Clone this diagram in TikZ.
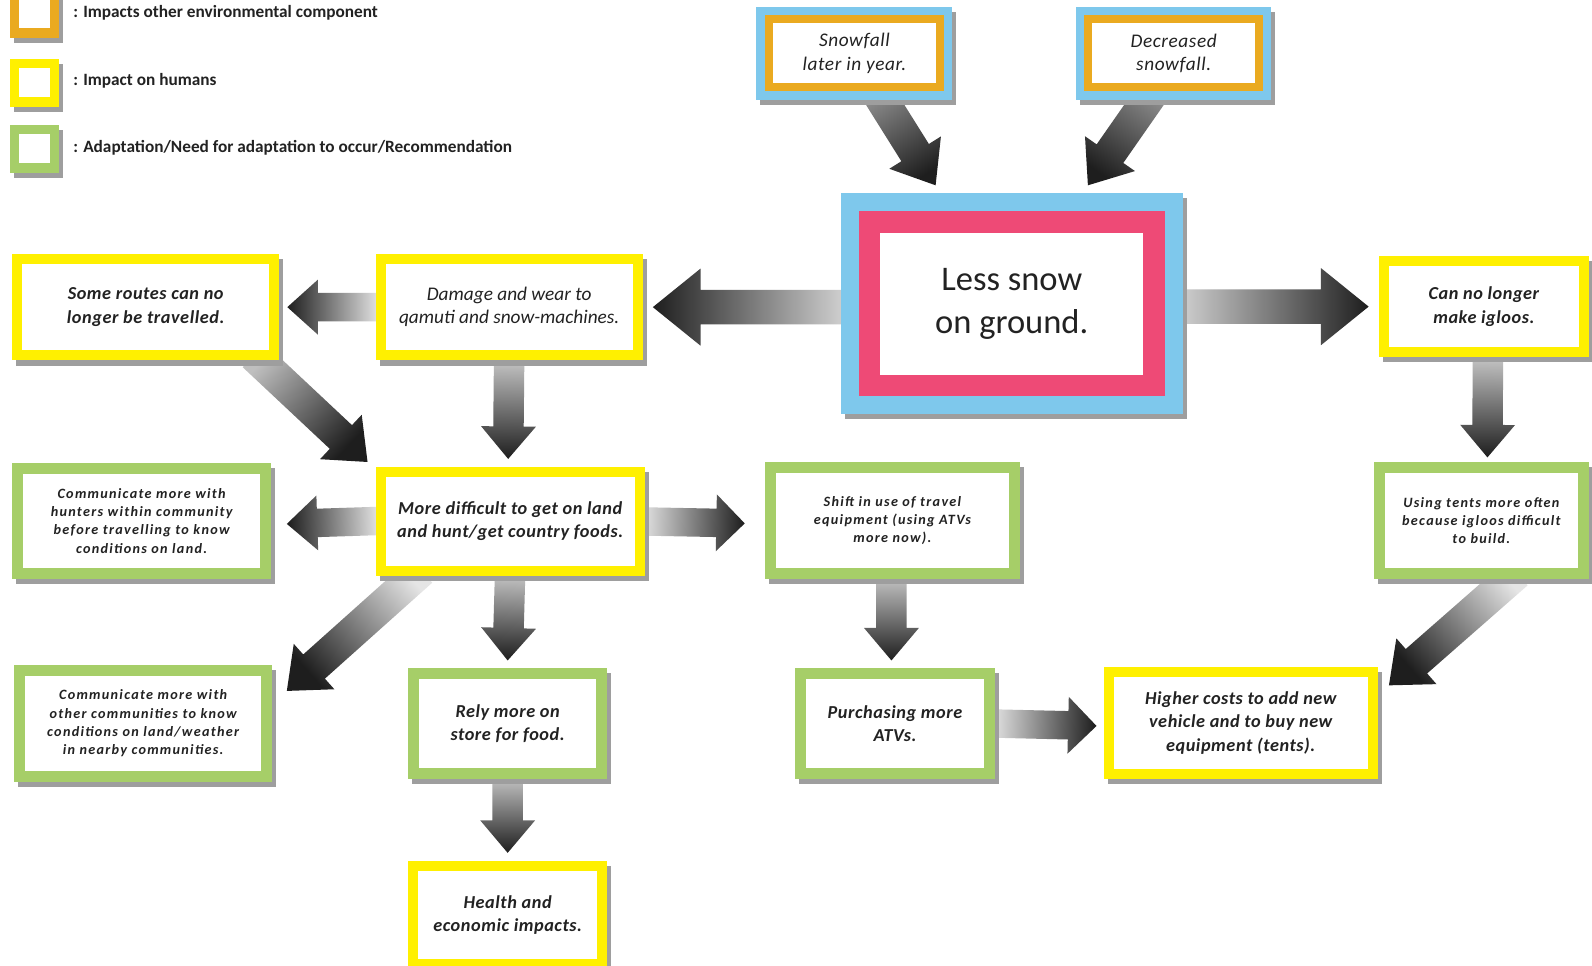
\documentclass[tikz,border=0pt]{standalone}
\usepackage{fontspec}
\setmainfont{Carlito}
\newfontfamily\tracked[LetterSpace=9]{Carlito}
\newfontfamily\lighttracked[LetterSpace=3]{Carlito}
\usetikzlibrary{calc}

\definecolor{corange}{RGB}{234,170,32}
\definecolor{cblue}{RGB}{126,200,236}
\definecolor{cpink}{RGB}{238,74,118}
\definecolor{cyellow}{RGB}{255,240,0}
\definecolor{cgreen}{RGB}{166,206,104}
\definecolor{textgrey}{RGB}{34,34,34}
\definecolor{arrowdark}{RGB}{30,30,30}
\definecolor{arrowlight}{RGB}{232,232,232}

\pgfdeclarelayer{bg}
\pgfsetlayers{bg,main}

% fonts
\newcommand\bigtext{\fontsize{34}{42}\selectfont}
\newcommand\midtext{\lighttracked\fontsize{18}{23}\selectfont\bfseries\itshape}
\newcommand\envtext{\lighttracked\fontsize{19}{23}\selectfont\itshape}
\newcommand\plaintext{\fontsize{19}{23}\selectfont\itshape}
\newcommand\smalltext{\tracked\fontsize{14}{18}\selectfont\bfseries\itshape}
\newcommand\keytext{\fontsize{17}{20}\selectfont\bfseries}

% block arrow with a shade from tail (light) to head (dark)
% [tail colour]{from}{to}{shaft half width}{head half width}{head length}
\newcommand\flowarrow[6][arrowlight]{%
  \coordinate (fa-s) at #2;
  \coordinate (fa-e) at #3;
  \coordinate (fa-h) at ($(fa-e)!#6!(fa-s)$);
  \pgfmathanglebetweenpoints{\pgfpointanchor{fa-s}{center}}{\pgfpointanchor{fa-e}{center}}%
  \pgfmathsetmacro\faangle{\pgfmathresult-90}%
  \shade[top color=arrowdark, bottom color=#1, shading angle=\faangle]
    ($(fa-s)!#4!90:(fa-e)$) -- ($(fa-h)!#4!90:(fa-e)$) -- ($(fa-h)!#5!90:(fa-e)$) -- (fa-e)
    -- ($(fa-h)!#5!-90:(fa-e)$) -- ($(fa-h)!#4!-90:(fa-e)$) -- ($(fa-s)!#4!-90:(fa-e)$) -- cycle;
}

\tikzset{
  box/.style={rectangle, inner sep=0pt, outer sep=0pt, fill=white, align=center,
      text=textgrey, font=\midtext},
  shadowed/.style={preaction={fill=black!38, draw=black!38, line width=#1,
      transform canvas={shift={(4pt,-5pt)}}}},
  yellowbox/.style={box, shadowed=10pt, draw=cyellow, line width=10pt},
  greenbox/.style={box, shadowed=11pt, draw=cgreen, line width=11pt},
  envbox/.style={box, shadowed=24pt, preaction={draw=cblue, line width=24pt},
      draw=corange, line width=8pt, font=\envtext},
  mainbox/.style={box, shadowed=57pt, preaction={draw=cblue, line width=57pt},
      draw=cpink, line width=21pt, font=\bigtext},
  small/.style={font=\smalltext},
  plain/.style={font=\plaintext},
  keybox/.style={box, shadowed=9pt, line width=9pt, minimum width=39pt, minimum height=38pt},
  keylabel/.style={anchor=west, inner sep=0pt, text=textgrey, font=\keytext},
}

\begin{document}
\begin{tikzpicture}[x=1pt, y=-1pt]
\useasboundingbox (0,0) rectangle (1568,951);

% key
\node[keybox, draw=corange] (keyenv) at (34,13.5) {};
\node[keybox, draw=cyellow] (keyhuman) at (34,81.5) {};
\node[keybox, draw=cgreen] (keyadapt) at (34,146.5) {};
\node[keylabel] (keyenvtext) at (72,13) {: Impacts other environmental component};
\node[keylabel] (keyhumantext) at (72,80) {: Impact on humans};
\node[keylabel] (keyadapttext) at (72,146) {: Adaptation/Need for adaptation to occur/Recommendation};

% causes and the central effect
\node[envbox, minimum width=169pt, minimum height=67pt] (snow) at (841.5,52.5)
  {Snowfall\\later in year.};
\node[envbox, minimum width=168pt, minimum height=67pt] (decr) at (1156,52.5)
  {Decreased\\snowfall.};
\node[mainbox, minimum width=280pt, minimum height=161pt] (central) at (996.5,299)
  {Less snow\\on ground.};

% second row
\node[yellowbox, minimum width=253pt, minimum height=95pt] (routes) at (143.5,302.5)
  {Some routes can no\\longer be travelled.};
\node[yellowbox, plain, minimum width=253pt, minimum height=95pt] (damage) at (501.5,302.5)
  {Damage and wear to\\qamuti and snow-machines.};
\node[yellowbox, minimum width=197pt, minimum height=90pt] (igloo) at (1461.5,302)
  {Can no longer\\make igloos.};

% third row
\node[greenbox, small, minimum width=244pt, minimum height=103pt] (hunters) at (139.5,513)
  {Communicate more with\\hunters within community\\before travelling to know\\conditions on land.};
\node[yellowbox, minimum width=255pt, minimum height=97pt] (difficult) at (502.5,513.5)
  {More difficult to get on land\\and hunt/get country foods.};
\node[greenbox, small, minimum width=241pt, minimum height=104pt] (shift) at (879,512.5)
  {Shift in use of travel\\equipment (using ATVs\\more now).};
\node[greenbox, small, minimum width=201pt, minimum height=104pt] (tents) at (1459,512.5)
  {Using tents more often\\because igloos difficult\\to build.};

% fourth row
\node[greenbox, small, minimum width=243pt, minimum height=104pt] (others) at (141,712.5)
  {Communicate more with\\other communities to know\\conditions on land/weather\\in nearby communities.};
\node[greenbox, minimum width=185pt, minimum height=98pt] (rely) at (500,712.5)
  {Rely more on\\store for food.};
\node[greenbox, minimum width=186pt, minimum height=98pt] (atvs) at (881.5,712.5)
  {Purchasing more\\ATVs.};
\node[yellowbox, minimum width=260pt, minimum height=100pt] (costs) at (1222,712)
  {Higher costs to add new\\vehicle and to buy new\\equipment (tents).};

% last row
\node[yellowbox, minimum width=186pt, minimum height=97pt] (health) at (500,901.5)
  {Health and\\economic impacts.};

\begin{pgfonlayer}{bg}
  \fill[white] (0,0) rectangle (1568,951);
  % into the central box
  \flowarrow[black!45]{($(snow.south)+(22,4)$)}{($(central.north)+(-75,-36)$)}{16pt}{30pt}{38pt}
  \flowarrow[black!45]{($(decr.south)+(-20,4)$)}{($(central.north)+(75,-36)$)}{16pt}{30pt}{38pt}
  % out of the central box
  \flowarrow{(central.west |- damage.east)}{($(damage.east)+(15,0)$)}{17pt}{38pt}{47pt}
  \flowarrow{(central.east |- igloo.west)}{($(igloo.west)+(-15,0)$)}{17pt}{38pt}{47pt}
  % second row
  \flowarrow{(damage.west)}{($(routes.east)+(13,0)$)}{14pt}{27pt}{30pt}
  \flowarrow[black!20]{(damage.south)}{($(difficult.north)+(-2,-13)$)}{15pt}{27pt}{32pt}
  \flowarrow[black!25]{($(routes.south east)+(-20,0)$)}{($(difficult.north west)+(-13,-10)$)}{16pt}{30pt}{36pt}
  \flowarrow[black!20]{($(igloo.south)+(4,0)$)}{($(tents.north)+(6,-10)$)}{15pt}{27pt}{32pt}
  % third row
  \flowarrow{(difficult.west |- hunters.east)}{($(hunters.east)+(21,3)$)}{14pt}{27pt}{30pt}
  \flowarrow{(difficult.east)}{($(shift.west)+(-25,3)$)}{14pt}{28pt}{28pt}
  \flowarrow[black!10]{($(difficult.south west)+(40,0)$)}{($(others.north east)+(20,20)$)}{16pt}{30pt}{36pt}
  \flowarrow[black!20]{(difficult.south)}{($(rely.north)+(0,-13)$)}{15pt}{27pt}{32pt}
  \flowarrow[black!20]{($(shift.south)+(-1,0)$)}{($(atvs.north)+(-3.5,-13)$)}{15pt}{27pt}{32pt}
  \flowarrow[black!10]{($(tents.south)+(35,0)$)}{($(costs.north east)+(16,13)$)}{16pt}{30pt}{36pt}
  % fourth row
  \flowarrow{(atvs.east)}{($(costs.west)+(-12,3)$)}{14pt}{28pt}{28pt}
  \flowarrow[black!20]{(rely.south)}{($(health.north)+(0,-13)$)}{15pt}{27pt}{32pt}
\end{pgfonlayer}
\end{tikzpicture}
\end{document}
